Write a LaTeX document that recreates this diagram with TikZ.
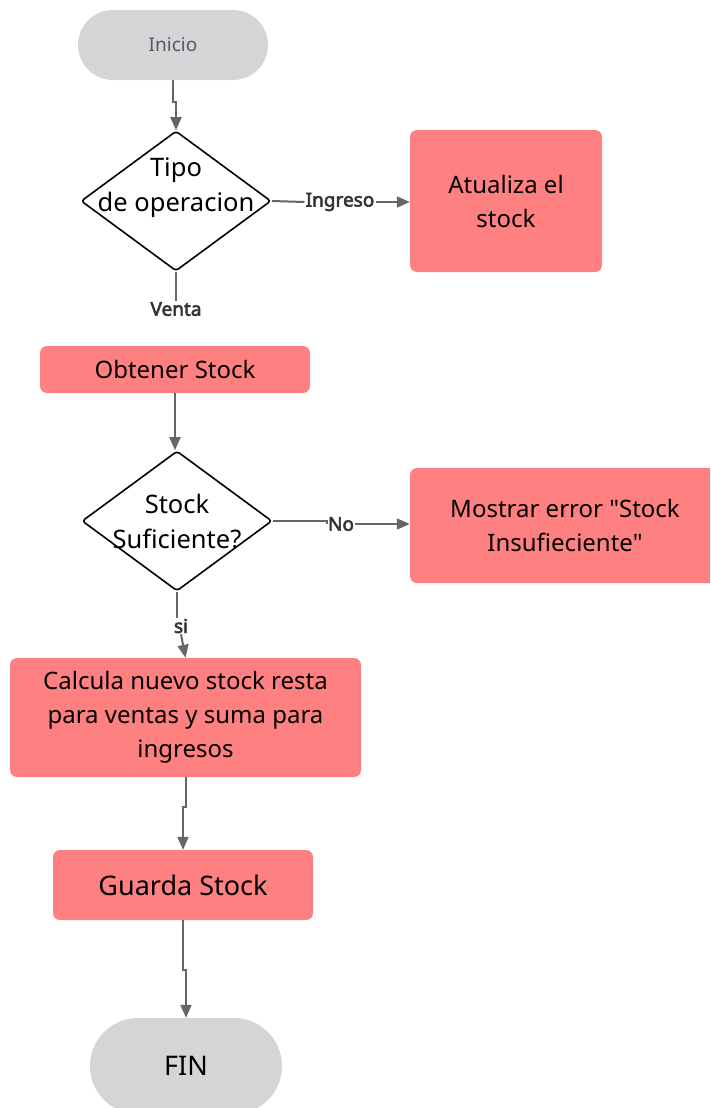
\documentclass[tikz,border=0pt]{standalone}
\usepackage{fontspec}
\setmainfont{Noto Sans}[Ligatures=TeXOff]
\newfontfamily\lblfont{Noto Sans}[FakeBold=3]
\usetikzlibrary{shapes.geometric,arrows.meta}
\definecolor{salmon}{HTML}{FF8080}
\definecolor{termgray}{HTML}{D4D5D7}
\definecolor{edgegray}{HTML}{666666}
\definecolor{labelgray}{HTML}{333333}
\definecolor{initext}{HTML}{555A60}
\tikzset{
  term/.style={rounded corners=35pt, fill=termgray, draw=none, align=center},
  proc/.style={rounded corners=7pt, fill=salmon, draw=none, align=center, font=\fontsize{24}{34}\selectfont},
  decision/.style={diamond, draw=black, line width=1.6pt, fill=white, rounded corners=3pt, inner sep=0pt},
  dtext/.style={align=center, inner sep=0pt, font=\fontsize{25.5}{35}\selectfont},
  conn/.style={draw=edgegray, line width=2pt},
  arr/.style={conn, -{Triangle[width=11pt,length=13pt]}},
  elabel/.style={font=\lblfont\fontsize{19}{21}\selectfont, text=labelgray, inner sep=1pt},
}
\begin{document}
\begin{tikzpicture}[x=1pt,y=-1pt]
\useasboundingbox (0,0) rectangle (710,1108);
\begin{scope}
\clip (0,0) rectangle (710,1108);
\node[term, minimum width=190pt, minimum height=70pt, text=initext, font=\fontsize{19}{22}\selectfont] (ini) at (173,45) {Inicio};
\node[decision, minimum width=190pt, minimum height=140pt] (d1) at (176,201) {};
\node[dtext] (d1t) at (176,188) {Tipo\\de operacion};
\node[proc, minimum width=192pt, minimum height=142pt] (upd) at (506,201) {Atualiza el\\stock};
\node[proc, minimum width=270pt, minimum height=47pt] (obt) at (175,369.5) {Obtener Stock};
\node[decision, minimum width=190pt, minimum height=140pt] (d2) at (177,521) {};
\node[dtext] (d2t) at (d2) {Stock\\Suficiente?};
\node[proc, minimum width=310pt, minimum height=115pt] (err) at (565,525.5) {Mostrar error "Stock\\Insufieciente"};
\node[proc, minimum width=351pt, minimum height=119pt] (calc) at (185.5,717.5) {Calcula nuevo stock resta\\para ventas y suma para\\ingresos};
\node[proc, minimum width=260pt, minimum height=70pt, font=\fontsize{27}{30}\selectfont] (grd) at (183,885) {Guarda Stock};
\node[term, minimum width=192pt, minimum height=96pt, rounded corners=48pt, font=\fontsize{27}{30}\selectfont] (fin) at (186,1066) {FIN};

\node[elabel] (ling) at (340,202) {Ingreso};
\node[elabel] (lven) at (176,309) {Venta};
\node[elabel] (lno) at (341,524) {No};
\node[elabel] (lsi) at (181,626) {si};

\draw[arr] (ini.south) -- ++(0,22) -| (d1.north);
\draw[conn] (d1.east) -- (ling.west);
\draw[arr] (ling.east) -- (upd.west |- ling.east);
\draw[conn] (d1.south) -- (lven.north);
\draw[arr] (obt.south) -- (obt.south |- d2.north);
\draw[conn] (d2.east) -- (d2.east -| lno.west) |- (lno.west);
\draw[arr] (lno.east) -- (err.west |- lno.east);
\draw[conn] (d2.south) -- (d2.south |- lsi.north);
\draw[arr] (lsi.south) -- (calc.north);
\draw[arr] (calc.south) -- ++(0,30) -| (grd.north);
\draw[arr] (grd.south) -- ++(0,50) -| (fin.north);
\end{scope}
\end{tikzpicture}
\end{document}
